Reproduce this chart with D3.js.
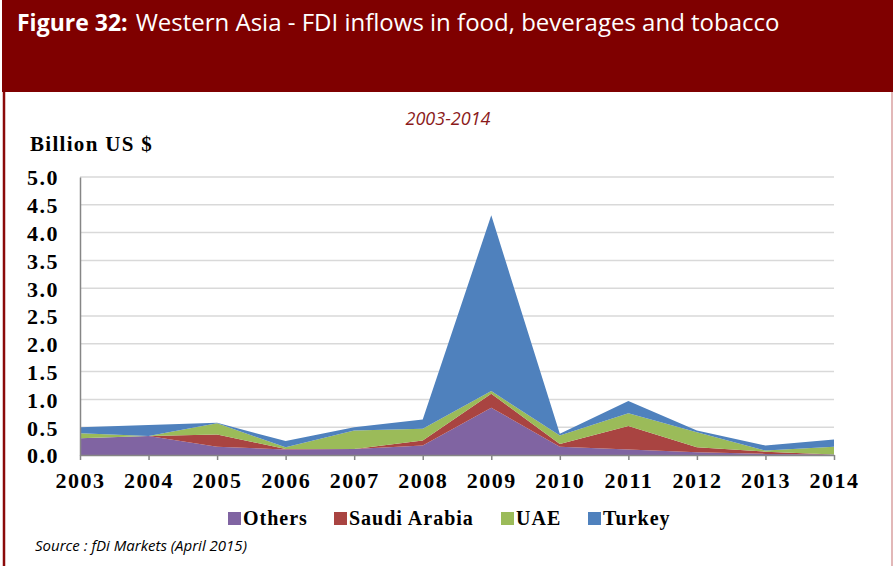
<!DOCTYPE html>
<html lang="en">
<head>
  <meta charset="UTF-8" />
  <title>Western Asia - FDI inflows in food, beverages and tobacco</title>
  <script src="https://d3js.org/d3.v7.min.js"></script>
  <style>
    body {
      margin: 0;
      background: white;
    }

    svg {
      display: block;
    }

    .axis text {
      font-family: "Liberation Serif", "Times New Roman", serif;
      font-weight: bold;
      font-size: 22px;
      letter-spacing: 1.5px;
      fill: black;
    }

    .legend-label {
      font-family: "Liberation Serif", "Times New Roman", serif;
      font-weight: bold;
      font-size: 20px;
      letter-spacing: 1px;
      fill: black;
    }
  </style>
</head>
<body>
  <svg width="893" height="566"></svg>

  <script>
    const years = ["2003", "2004", "2005", "2006", "2007", "2008", "2009", "2010", "2011", "2012", "2013", "2014"];
    const others = [0.30, 0.34, 0.15, 0.10, 0.11, 0.17, 0.85, 0.15, 0.10, 0.05, 0.02, 0.01];
    const saudiArabia = [0.00, 0.00, 0.22, 0.01, 0.00, 0.09, 0.25, 0.05, 0.42, 0.09, 0.04, 0.00];
    const uae = [0.09, 0.00, 0.20, 0.03, 0.33, 0.21, 0.05, 0.15, 0.23, 0.27, 0.02, 0.14];
    const turkey = [0.11, 0.20, 0.01, 0.11, 0.06, 0.17, 3.16, 0.03, 0.22, 0.03, 0.09, 0.13];
    const seriesNames = ["Others", "Saudi Arabia", "UAE", "Turkey"];
    const seriesColors = ["#8064a2", "#a94441", "#9bbb59", "#4f81bd"];
    const yTicks = [0, 0.5, 1, 1.5, 2, 2.5, 3, 3.5, 4, 4.5, 5];

    const svg = d3.select("svg"),
          width = +svg.attr("width"),
          height = +svg.attr("height"),
          margin = { top: 177, right: 59, bottom: 111, left: 80 };

    // header band
    svg.append("rect")
       .attr("x", 2).attr("y", 0)
       .attr("width", width - 2).attr("height", 92)
       .attr("fill", "#7f0000");

    // frame lines
    svg.append("line")
       .attr("x1", 4).attr("x2", 4).attr("y1", 92).attr("y2", height)
       .attr("stroke", "#8b0a0a").attr("stroke-width", 2.5);
    svg.append("line")
       .attr("x1", 892).attr("x2", 892).attr("y1", 92).attr("y2", height)
       .attr("stroke", "#d9a0a0").attr("stroke-width", 1.5);

    const title = svg.append("text")
       .attr("x", 17).attr("y", 31)
       .attr("fill", "white")
       .style("font-family", "'Open Sans', 'Noto Sans', sans-serif")
       .style("font-size", "23px");
    title.append("tspan").style("font-weight", "bold").text("Figure 32:");
    title.append("tspan").attr("dx", 8).style("font-size", "24px")
         .text("Western Asia - FDI inflows in food, beverages and tobacco");

    svg.append("text")
       .attr("x", 448).attr("y", 125)
       .attr("text-anchor", "middle")
       .attr("fill", "#8b1a1a")
       .style("font-family", "'Open Sans', sans-serif")
       .style("font-style", "italic")
       .style("font-size", "18px")
       .text("2003-2014");

    svg.append("text")
       .attr("x", 30).attr("y", 151)
       .style("font-family", "'Liberation Serif', serif")
       .style("font-weight", "bold")
       .style("font-size", "21px")
       .style("letter-spacing", "1.3px")
       .text("Billion US $");

    const data = years.map((y, i) => ({
      year: y,
      "Others": others[i],
      "Saudi Arabia": saudiArabia[i],
      "UAE": uae[i],
      "Turkey": turkey[i]
    }));

    const x = d3.scalePoint()
                .domain(years)
                .range([margin.left, width - margin.right]);

    const y = d3.scaleLinear()
                .domain([0, 5])
                .range([height - margin.bottom, margin.top]);

    // gridlines
    svg.append("g")
       .selectAll("line")
       .data(yTicks.slice(1))
       .join("line")
       .attr("x1", margin.left).attr("x2", width - margin.right)
       .attr("y1", d => y(d)).attr("y2", d => y(d))
       .attr("stroke", "#d9d9d9").attr("stroke-width", 1.5);

    const stack = d3.stack().keys(seriesNames);
    const layers = stack(data);

    const area = d3.area()
                   .x(d => x(d.data.year))
                   .y0(d => y(d[0]))
                   .y1(d => y(d[1]));

    svg.append("g")
       .selectAll("path")
       .data(layers)
       .join("path")
       .attr("fill", (d, i) => seriesColors[i])
       .attr("d", area);

    // Y-axis
    const yAxis = svg.append("g")
       .attr("class", "axis")
       .attr("transform", `translate(${margin.left},0)`)
       .call(d3.axisLeft(y).tickValues(yTicks).tickFormat(d3.format(".1f")).tickSize(0).tickPadding(21));
    yAxis.select(".domain").attr("stroke", "#868686").attr("stroke-width", 1.5);
    yAxis.selectAll("text").attr("dy", "0.36em");

    // X-axis
    const xAxis = svg.append("g")
       .attr("class", "axis")
       .attr("transform", `translate(0,${height - margin.bottom})`)
       .call(d3.axisBottom(x).tickSize(5).tickPadding(12).tickSizeOuter(0));
    xAxis.select(".domain").attr("stroke", "#868686").attr("stroke-width", 1.5);
    xAxis.selectAll(".tick line").attr("stroke", "#868686").attr("stroke-width", 1.5);

    // Legend
    const legendX = [228, 334, 501, 588];
    const legend = svg.append("g");
    seriesNames.forEach((name, i) => {
      legend.append("rect")
            .attr("x", legendX[i]).attr("y", 512)
            .attr("width", 13).attr("height", 13)
            .attr("fill", seriesColors[i]);
      legend.append("text")
            .attr("class", "legend-label")
            .attr("x", legendX[i] + 15).attr("y", 525)
            .text(name);
    });

    svg.append("text")
       .attr("x", 35).attr("y", 551)
       .style("font-family", "'Open Sans', sans-serif")
       .style("font-style", "italic")
       .style("font-size", "15px")
       .text("Source : fDi Markets (April 2015)");
  </script>
</body>
</html>
